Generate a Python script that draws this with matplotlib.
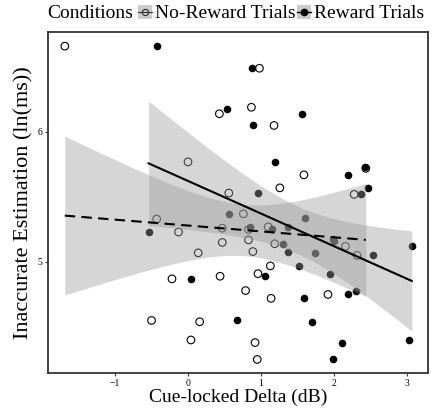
import numpy as np
import matplotlib
matplotlib.use('Agg')
import matplotlib.pyplot as plt
from matplotlib.lines import Line2D
from matplotlib.patches import Rectangle
from matplotlib.legend_handler import HandlerTuple

plt.rcParams['font.family'] = ['Liberation Serif', 'DejaVu Serif']

# No-Reward Trials (open circles)
nr_x = [-1.69, 0.43, 0.98, 0.87, 1.18, 0.00, 0.56, 1.59, 1.26, 2.28, 0.76, -0.43,
        -0.13, 0.47, 0.47, 0.14, -0.22, 0.44, -0.50, 0.16, 0.04, 0.83, 1.10, 0.83,
        1.19, 0.89, 2.16, 2.32, 1.13, 0.96, 0.79, 1.14, 1.92, 0.92, 0.95, 2.44]
nr_y = [6.66, 6.14, 6.49, 6.19, 6.05, 5.77, 5.53, 5.67, 5.57, 5.52, 5.37, 5.33,
        5.23, 5.26, 5.15, 5.07, 4.87, 4.89, 4.55, 4.54, 4.40, 5.25, 5.27, 5.17,
        5.14, 5.08, 5.12, 5.05, 4.97, 4.91, 4.78, 4.72, 4.75, 4.38, 4.25, 5.72]

# Reward Trials (filled circles)
rw_x = [-0.43, 0.53, 0.88, 1.57, 0.89, 1.20, 2.20, 2.43, 2.47, 0.96, 2.37, 0.56,
        1.60, -0.54, 0.04, 0.67, 0.85, 1.15, 1.37, 1.30, 1.37, 1.74, 1.99, 2.00,
        2.54, 3.07, 1.52, 1.06, 1.95, 1.59, 2.19, 2.30, 1.70, 2.11, 3.03, 1.99]
rw_y = [6.66, 6.18, 6.49, 6.14, 6.05, 5.77, 5.67, 5.73, 5.57, 5.53, 5.52, 5.37,
        5.34, 5.23, 4.87, 4.55, 5.27, 5.25, 5.27, 5.14, 5.08, 5.07, 5.18, 5.16,
        5.05, 5.12, 4.97, 4.89, 4.91, 4.72, 4.75, 4.78, 4.54, 4.38, 4.40, 4.25]

x_ticks = [-1, 0, 1, 2, 3]
y_ticks = [5, 6]
T_975 = 2.032  # t quantile, df = 34


def lm_band(x, y, n_grid=80):
    # linear fit with 95% confidence band, like geom_smooth(method='lm')
    x = np.asarray(x)
    y = np.asarray(y)
    b, a = np.polyfit(x, y, 1)
    res = y - (a + b * x)
    n = len(x)
    s = np.sqrt(np.sum(res ** 2) / (n - 2))
    sxx = np.sum((x - x.mean()) ** 2)
    xg = np.linspace(x.min(), x.max(), n_grid)
    fit = a + b * xg
    se = s * np.sqrt(1.0 / n + (xg - x.mean()) ** 2 / sxx)
    return xg, fit, fit - T_975 * se, fit + T_975 * se


fig = plt.figure(figsize=(4.33, 4.11), dpi=100)
ax = fig.add_axes([0.111, 0.0925, 0.877, 0.83])

ax.scatter(nr_x, nr_y, s=30, facecolors='none', edgecolors='black', linewidths=0.8, zorder=2)
ax.scatter(rw_x, rw_y, s=30, color='black', linewidths=0, zorder=2)

band = '#999999'
for xs, ys, ls in [(nr_x, nr_y, (0, (5, 3))), (rw_x, rw_y, '-')]:
    xg, fit, lo, hi = lm_band(xs, ys)
    ax.fill_between(xg, lo, hi, color=band, alpha=0.4, linewidth=0, zorder=3)
    ax.plot(xg, fit, color='black', linestyle=ls, linewidth=1.5, zorder=4)

ax.set_xlim(-1.92, 3.29)
ax.set_ylim(4.146, 6.77)
ax.set_xticks(x_ticks)
ax.set_yticks(y_ticks)
ax.tick_params(labelsize=7, length=2.5, width=0.8, pad=1.5, color='#333333')
for sp in ax.spines.values():
    sp.set_linewidth(1.3)
    sp.set_color('#333333')

ax.set_xlabel('Cue-locked Delta (dB)', fontsize=14, labelpad=1)
ax.set_ylabel('Inaccurate Estimation (ln(ms))', fontsize=16, labelpad=3)

# legend on top
fig.text(0.108, 0.967, 'Conditions', fontsize=14, ha='left', va='center')
key_bg = Rectangle((0, 0), 1, 1, facecolor='#cccccc', edgecolor='none')
h_nr = Line2D([], [], color='#333333', marker='o', markerfacecolor='none', markersize=4.5,
              markeredgewidth=0.8, linestyle='-', linewidth=0.8)
h_rw = Line2D([], [], color='black', marker='o', markersize=4.5, linestyle='-', linewidth=1)
fig.legend([(key_bg, h_nr), (key_bg, h_rw)], ['No-Reward Trials', 'Reward Trials'],
           handler_map={tuple: HandlerTuple(ndivide=1, pad=0)},
           loc='center left', bbox_to_anchor=(0.318, 0.967), ncol=2, frameon=False,
           fontsize=14, handlelength=0.72, handleheight=0.72, handletextpad=0.15,
           columnspacing=0.1, borderaxespad=0, borderpad=0, numpoints=1)

fig.savefig('out.png', dpi=100)
